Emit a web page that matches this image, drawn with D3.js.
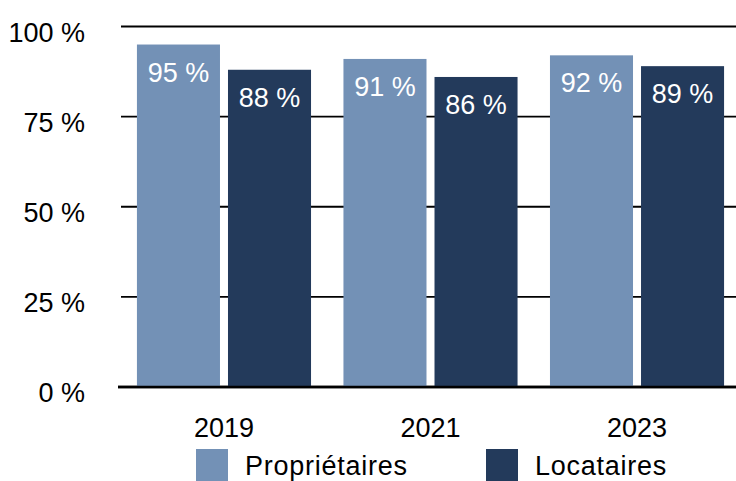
<!DOCTYPE html>
<html>
<head>
<meta charset="utf-8">
<script src="https://cdn.jsdelivr.net/npm/d3@7"></script>
<style>
  body { margin: 0; background: #fff; }
  svg { display: block; font-family: "Liberation Sans", Arial, sans-serif; }
</style>
</head>
<body>
<div id="chart"></div>
<script>
const years = ["2019", "2021", "2023"];
const series = ["Propriétaires", "Locataires"];
const proprietaires = [95, 91, 92];
const locataires = [88, 86, 89];
const yTicks = [0, 25, 50, 75, 100];
const colors = ["#7391b6", "#233a5b"];

const width = 736, height = 481;

const rows = years.map((y, i) => ({
    year: y,
    values: [
        { key: series[0], value: proprietaires[i] },
        { key: series[1], value: locataires[i] }
    ]
}));

const svg = d3.select("#chart").append("svg")
              .attr("width", width)
              .attr("height", height);

const x0 = d3.scaleBand()
             .domain(years)
             .range([120, 741])
             .paddingInner(0.157)
             .paddingOuter(0.082);

const x1 = d3.scaleBand()
             .domain(series)
             .range([0, x0.bandwidth()])
             .paddingInner(0.088);

const y = d3.scaleLinear()
            .domain([0, 100])
            .range([387, 26.5]);

const color = d3.scaleOrdinal()
                .domain(series)
                .range(colors);

// grid lines + y labels
const grid = svg.append("g");

grid.selectAll("line")
    .data(yTicks)
    .enter().append("line")
    .attr("x1", d => d === 0 ? 118 : 121)
    .attr("x2", width)
    .attr("y1", d => y(d))
    .attr("y2", d => y(d))
    .attr("stroke", "#000")
    .attr("stroke-width", d => d === 0 ? 2.4 : 1.8);

grid.selectAll("text")
    .data(yTicks)
    .enter().append("text")
    .attr("x", 85)
    .attr("y", d => y(d) + 15)
    .attr("text-anchor", "end")
    .attr("font-size", 27)
    .attr("fill", "#000")
    .text(d => d + " %");

const groups = svg.selectAll("g.group")
                  .data(rows)
                  .enter().append("g")
                  .attr("class", "group")
                  .attr("transform", d => `translate(${x0(d.year)},0)`);

groups.selectAll("rect")
      .data(d => d.values)
      .enter().append("rect")
      .attr("x", d => x1(d.key))
      .attr("y", d => y(d.value))
      .attr("width", x1.bandwidth())
      .attr("height", d => y(0) - y(d.value))
      .attr("fill", d => color(d.key));

groups.selectAll("text")
      .data(d => d.values)
      .enter().append("text")
      .attr("x", d => x1(d.key) + x1.bandwidth() / 2)
      .attr("y", d => y(d.value) + 37)
      .attr("text-anchor", "middle")
      .attr("font-size", 27)
      .attr("fill", "#fff")
      .text(d => d.value + " %");

// redraw bottom axis line on top of bars
svg.append("line")
   .attr("x1", 118)
   .attr("x2", width)
   .attr("y1", y(0))
   .attr("y2", y(0))
   .attr("stroke", "#000")
   .attr("stroke-width", 2.4);

svg.append("g")
   .selectAll("text")
   .data(years)
   .enter().append("text")
   .attr("x", d => x0(d) + x0.bandwidth() / 2)
   .attr("y", 437)
   .attr("text-anchor", "middle")
   .attr("font-size", 27)
   .attr("fill", "#000")
   .text(d => d);

// legend
const legendX = [196, 486];
const legend = svg.append("g");

series.forEach((s, i) => {
    legend.append("rect")
          .attr("x", legendX[i])
          .attr("y", 449)
          .attr("width", 32)
          .attr("height", 32)
          .attr("fill", color(s));

    legend.append("text")
          .attr("x", legendX[i] + 49)
          .attr("y", 475)
          .attr("font-size", 27)
          .attr("letter-spacing", 0.75)
          .attr("fill", "#000")
          .text(s);
});
</script>
</body>
</html>
